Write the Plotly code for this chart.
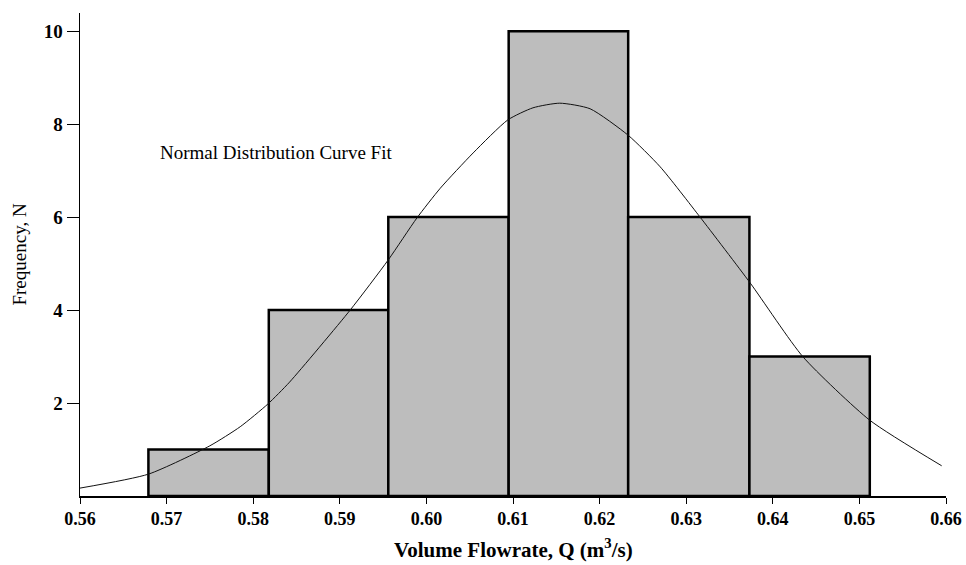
import plotly.graph_objects as go

# Histogram bins (flowrate, m^3/s) and frequencies
bin_left = [0.5679, 0.5818, 0.5956, 0.6095, 0.6233, 0.6373]
bin_right = [0.5818, 0.5956, 0.6095, 0.6233, 0.6373, 0.6512]
frequency = [1, 4, 6, 10, 6, 3]

# Normal distribution curve fit
curve_x = [0.5600, 0.5679, 0.5750, 0.5785, 0.5817, 0.5842, 0.5912, 0.5956,
           0.5989, 0.6016, 0.6054, 0.6094, 0.6123, 0.6154, 0.6189, 0.6233,
           0.6270, 0.6316, 0.6374, 0.6435, 0.6512, 0.6595]
curve_y = [0.17, 0.47, 1.08, 1.49, 1.98, 2.45, 4.00, 5.08,
           5.98, 6.62, 7.38, 8.09, 8.35, 8.45, 8.33, 7.76,
           7.08, 6.00, 4.58, 2.99, 1.63, 0.65]

x_ticks = [0.56, 0.57, 0.58, 0.59, 0.60, 0.61, 0.62, 0.63, 0.64, 0.65, 0.66]
x_tick_text = ["0.56", "0.57", "0.58", "0.59", "0.60", "0.61", "0.62", "0.63", "0.64", "0.65", "0.66"]
y_ticks = [2, 4, 6, 8, 10]

centers = [(a + b) / 2 for a, b in zip(bin_left, bin_right)]
widths = [b - a for a, b in zip(bin_left, bin_right)]

font_family = "Liberation Serif, Times New Roman, serif"

fig = go.Figure()
fig.add_trace(go.Bar(
    x=centers, y=frequency, width=widths,
    marker=dict(color="#bdbdbd", line=dict(color="black", width=2.5)),
    showlegend=False, hoverinfo="skip",
))
fig.add_trace(go.Scatter(
    x=curve_x, y=curve_y, mode="lines",
    line=dict(color="#111111", width=1, shape="spline", smoothing=0.6),
    showlegend=False, hoverinfo="skip",
))

fig.add_annotation(
    x=0.5690, y=7.40, xref="x", yref="y", text="Normal Distribution Curve Fit",
    showarrow=False, xanchor="left", yanchor="middle",
    font=dict(family=font_family, size=19, color="black"),
)
fig.add_annotation(
    x=0.5, y=-0.108, xref="paper", yref="paper",
    text="<b>Volume Flowrate, Q (m<sup>3</sup>/s)</b>",
    showarrow=False, xanchor="center", yanchor="middle",
    font=dict(family=font_family, size=21, color="black"),
)
fig.add_annotation(
    x=-0.0704, y=0.5, xref="paper", yref="paper",
    text="Frequency, N", textangle=-90,
    showarrow=False, xanchor="center", yanchor="middle",
    font=dict(family=font_family, size=19, color="black"),
)

fig.update_layout(
    width=966, height=565,
    margin=dict(l=80, r=20, t=13, b=69),
    paper_bgcolor="white", plot_bgcolor="white",
    bargap=0,
    font=dict(family=font_family, color="black"),
)
fig.update_xaxes(
    range=[0.56, 0.66], tickvals=x_ticks, ticktext=x_tick_text,
    showline=True, linecolor="black", linewidth=1.5,
    ticks="outside", ticklen=6, tickcolor="black",
    showgrid=False, zeroline=False, automargin=False,
    ticklabeloverflow="allow",
    tickfont=dict(family=font_family, size=18, color="black", weight="bold"),
)
fig.update_yaxes(
    range=[0, 10.39], tickvals=y_ticks,
    showline=True, linecolor="black", linewidth=1.5,
    ticks="outside", ticklen=12, tickcolor="black",
    showgrid=False, zeroline=False, automargin=False,
    tickfont=dict(family=font_family, size=19, color="black", weight="bold"),
)

# remove the default page margin so the 966x565 figure fills the window exactly
fig.write_html(
    "out.html",
    config={"displayModeBar": False, "staticPlot": True},
    post_script="document.body.style.margin='0';document.body.style.overflow='hidden';",
)
